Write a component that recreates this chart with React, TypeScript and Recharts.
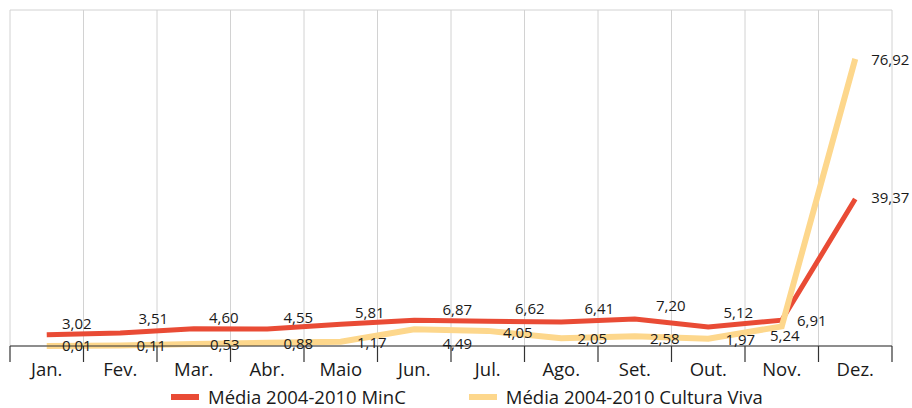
import { CartesianGrid, LabelList, Legend, Line, LineChart, XAxis, YAxis } from "recharts";

const months = ["Jan.", "Fev.", "Mar.", "Abr.", "Maio", "Jun.", "Jul.", "Ago.", "Set.", "Out.", "Nov.", "Dez."];
const minc = [3.02, 3.51, 4.6, 4.55, 5.81, 6.87, 6.62, 6.41, 7.2, 5.12, 6.91, 39.37];
const culturaViva = [0.01, 0.11, 0.53, 0.88, 1.17, 4.49, 4.05, 2.05, 2.58, 1.97, 5.24, 76.92];
const yTicks = [0, 90];

const RED = "#e94b35";
const YELLOW = "#fdd78c";
const FONT = "'Open Sans', sans-serif";

const data = months.map((month, i) => ({
  x: i + 0.5,
  month,
  minc: minc[i],
  cultura: culturaViva[i],
}));

const gridTicks = Array.from({ length: months.length + 1 }, (_, i) => i);
const labelTicks = months.map((_, i) => i + 0.5);

// label placement, per month, as in the original layout
const mincNudge = {
  dx: [30, 33, 30, 31, 29, 43, 42, 38, 36, 30, 30, 35],
  dy: [-12, -15, -12, -12, -12, -11, -13, -14, -14, -15, 0, -2],
};
const cvNudge = {
  dx: [30, 31, 31, 31, 31, 43, 30, 31, 30, 32, 3, 35],
  dy: [-1, -1, 0, 0, 0, 14, 1, 0, 2, 0, 9, 0],
};

const fmt = (v: number) => v.toFixed(2).replace(".", ",");

function makeLabel(nudge: { dx: number[]; dy: number[] }) {
  return (props: any) => {
    const { x, y, value, index } = props;
    return (
      <text
        x={x + nudge.dx[index]}
        y={y + nudge.dy[index]}
        textAnchor="middle"
        dominantBaseline="central"
        fontSize={15}
        fontFamily={FONT}
        fill="#1a1a1a"
      >
        {fmt(value)}
      </text>
    );
  };
}

function ChartLegend() {
  const items = [
    { name: "Média 2004-2010 MinC", color: RED },
    { name: "Média 2004-2010 Cultura Viva", color: YELLOW },
  ];
  return (
    <div
      style={{
        display: "flex",
        alignItems: "center",
        height: 28,
        paddingLeft: 171,
        paddingTop: 6,
        boxSizing: "border-box",
        fontFamily: FONT,
        fontSize: 18.5,
        color: "#1a1a1a",
        gap: 63,
        whiteSpace: "nowrap",
      }}
    >
      {items.map((it) => (
        <div key={it.name} style={{ display: "flex", alignItems: "center", gap: 9 }}>
          <span style={{ width: 28, height: 6, background: it.color, display: "inline-block" }} />
          <span style={{ lineHeight: "20px" }}>{it.name}</span>
        </div>
      ))}
    </div>
  );
}

export default function App() {
  return (
    <div style={{ position: "absolute", left: 0, top: 0, width: 912, height: 408, background: "#fff" }}>
      <LineChart width={912} height={408} data={data} margin={{ top: 10, right: 20, bottom: 0, left: 10 }}>
        <CartesianGrid xAxisId="grid" stroke="#d2d2d2" strokeWidth={1} />
        <XAxis
          xAxisId="grid"
          dataKey="x"
          type="number"
          domain={[0, months.length]}
          ticks={gridTicks}
          interval={0}
          height={16}
          tickSize={16}
          tick={() => <g />}
          stroke="#333"
          strokeWidth={1.2}
        />
        <XAxis
          xAxisId="lab"
          dataKey="x"
          type="number"
          domain={[0, months.length]}
          allowDataOverflow
          ticks={labelTicks}
          interval={0}
          height={18}
          tickSize={0}
          tickMargin={1}
          axisLine={false}
          tickLine={false}
          tickFormatter={(v: number) => months[Math.floor(v)]}
          tick={{ fill: "#1a1a1a", fontSize: 18.5, fontFamily: FONT }}
        />
        <YAxis
          domain={[0, 90]}
          ticks={yTicks}
          width={0}
          tick={false}
          tickLine={false}
          axisLine={{ stroke: "#333", strokeWidth: 1.5 }}
        />
        <Legend verticalAlign="bottom" wrapperStyle={{ left: 0, width: 912 }} content={() => <ChartLegend />} />
        <Line
          xAxisId="grid"
          dataKey="minc"
          name="Média 2004-2010 MinC"
          type="linear"
          stroke={RED}
          strokeWidth={5}
          dot={false}
          isAnimationActive={false}
        >
          <LabelList dataKey="minc" content={makeLabel(mincNudge)} />
        </Line>
        <Line
          xAxisId="grid"
          dataKey="cultura"
          name="Média 2004-2010 Cultura Viva"
          type="linear"
          stroke={YELLOW}
          strokeWidth={6}
          dot={false}
          isAnimationActive={false}
        >
          <LabelList dataKey="cultura" content={makeLabel(cvNudge)} />
        </Line>
      </LineChart>
    </div>
  );
}
